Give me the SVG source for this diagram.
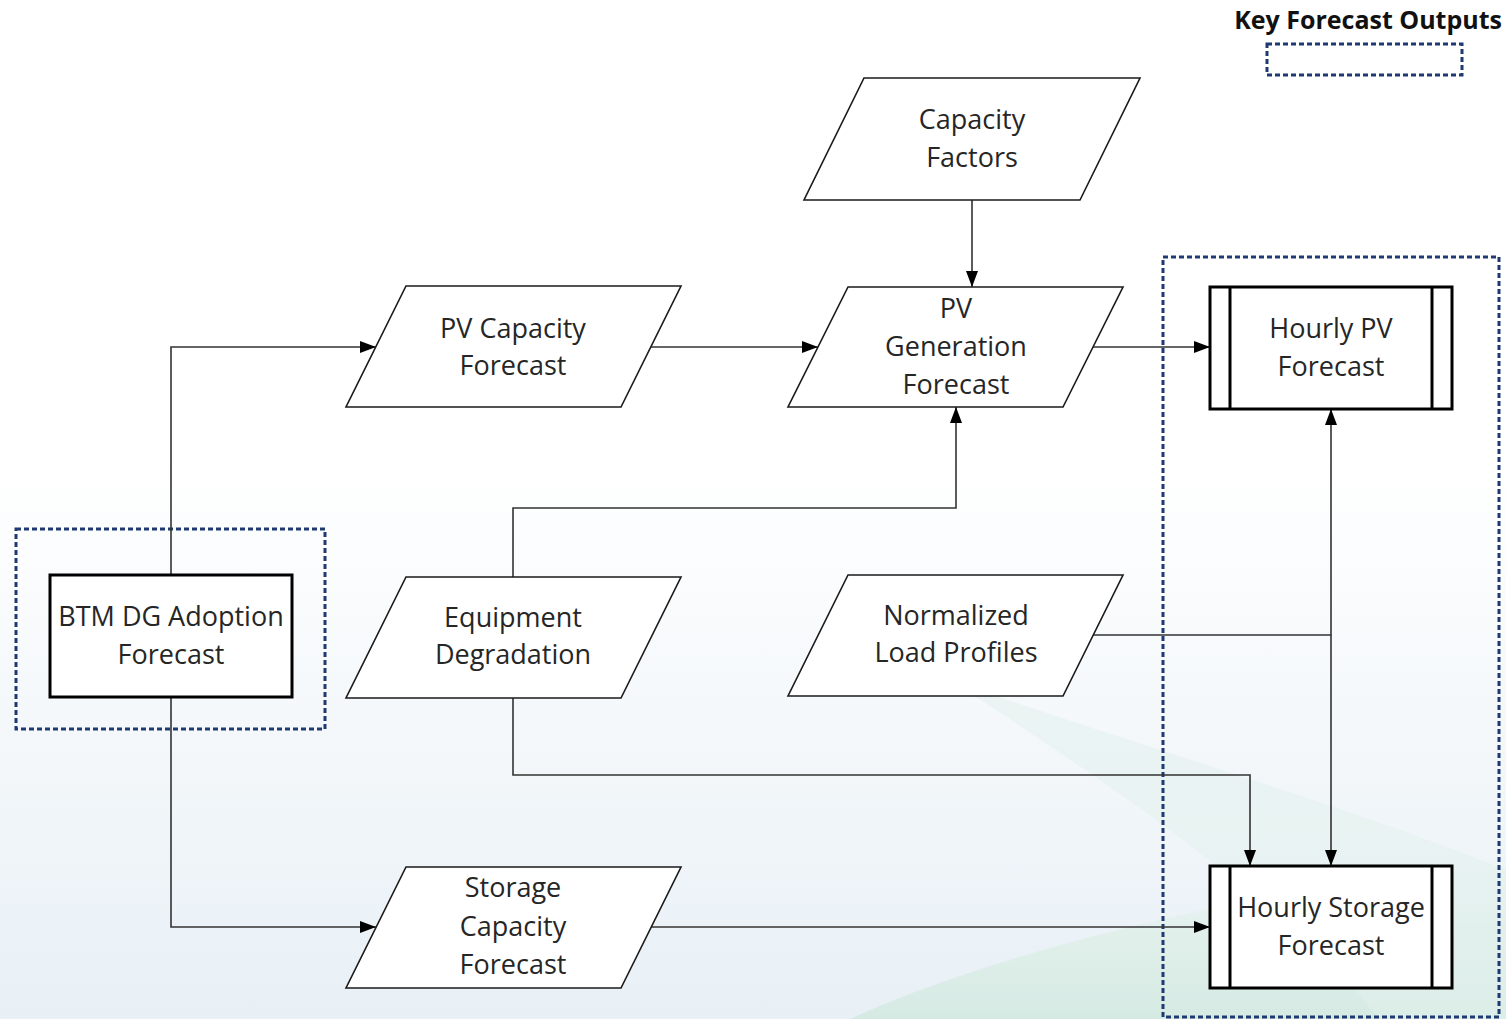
<svg xmlns="http://www.w3.org/2000/svg" width="1506" height="1019" viewBox="0 0 1506 1019">
  <defs>
    <linearGradient id="bg" x1="0" y1="0" x2="0" y2="1">
      <stop offset="0.45" stop-color="#ffffff"/>
      <stop offset="1" stop-color="#e8f0f6"/>
    </linearGradient>
    <linearGradient id="teal" x1="0" y1="0" x2="0" y2="1">
      <stop offset="0" stop-color="#e6f2ef" stop-opacity="0"/>
      <stop offset="0.5" stop-color="#e0efea"/>
      <stop offset="1" stop-color="#d6eae4"/>
    </linearGradient>
    <marker id="arr" viewBox="0 0 16 12" refX="16" refY="6" markerWidth="16" markerHeight="12" markerUnits="userSpaceOnUse" orient="auto">
      <path d="M0,0 L16,6 L0,12 z" fill="#000"/>
    </marker>
    <style>
      .para { fill: #ffffff; stroke: #1a1a1a; stroke-width: 1.6; }
      .box { fill: #ffffff; stroke: #000; stroke-width: 3; }
      .inner { stroke: #000; stroke-width: 3; }
      .dash { fill: none; stroke: #1f3a70; stroke-width: 3; stroke-dasharray: 5 3; }
      .lbl { font-family: "Open Sans", "Liberation Sans", sans-serif; font-size: 27px; fill: #262626; text-anchor: middle; }
      .conn { fill: none; stroke: #333; stroke-width: 1.6; }
      .conn path { marker-end: url(#arr); }
    </style>
  </defs>

  <rect x="0" y="0" width="1506" height="1019" fill="url(#bg)"/>
  <path d="M850,1019 C1000,950 1250,890 1506,860 L1506,1019 Z" fill="url(#teal)"/>
  <path d="M950,680 C1120,740 1330,800 1506,870 L1506,1019 L1380,1019 C1280,900 1120,790 950,680 Z" fill="#e2f0ec" opacity="0.55"/>

  <g id="legend">
    <text x="1502" y="29" font-family="Open Sans, Liberation Sans, sans-serif" font-size="25" font-weight="bold" fill="#111" text-anchor="end">Key Forecast Outputs</text>
    <rect class="dash" x="1267" y="44" width="195" height="31"/>
  </g>

  <g id="groups">
    <rect class="dash" x="16" y="529" width="309" height="200"/>
    <rect class="dash" x="1163" y="257" width="336" height="760"/>
  </g>

  <g id="connectors" class="conn">
    <path d="M171,575 V347 H376"/>
    <path d="M171,697 V927 H376"/>
    <path d="M651,347 H818"/>
    <path d="M972,200 V287"/>
    <path d="M513,577 V508 H956 V407"/>
    <path d="M513,698 V775 H1250 V866"/>
    <path d="M1093,347 H1210"/>
    <path d="M1093,635 H1331 V409"/>
    <path d="M1331,635 V866"/>
    <path d="M651,927 H1210"/>
  </g>

  <g id="capacity-factors">
    <polygon class="para" points="864,78 1140,78 1080,200 804,200"/>
    <text class="lbl" x="972" y="129">Capacity</text>
    <text class="lbl" x="972" y="167">Factors</text>
  </g>

  <g id="pv-capacity-forecast">
    <polygon class="para" points="406,286 681,286 621,407 346,407"/>
    <text class="lbl" x="513" y="338">PV Capacity</text>
    <text class="lbl" x="513" y="375">Forecast</text>
  </g>

  <g id="pv-generation-forecast">
    <polygon class="para" points="848,287 1123,287 1063,407 788,407"/>
    <text class="lbl" x="956" y="318">PV</text>
    <text class="lbl" x="956" y="356">Generation</text>
    <text class="lbl" x="956" y="394">Forecast</text>
  </g>

  <g id="equipment-degradation">
    <polygon class="para" points="406,577 681,577 621,698 346,698"/>
    <text class="lbl" x="513" y="627">Equipment</text>
    <text class="lbl" x="513" y="664">Degradation</text>
  </g>

  <g id="normalized-load-profiles">
    <polygon class="para" points="848,575 1123,575 1063,696 788,696"/>
    <text class="lbl" x="956" y="625">Normalized</text>
    <text class="lbl" x="956" y="662">Load Profiles</text>
  </g>

  <g id="storage-capacity-forecast">
    <polygon class="para" points="406,867 681,867 621,988 346,988"/>
    <text class="lbl" x="513" y="897">Storage</text>
    <text class="lbl" x="513" y="936">Capacity</text>
    <text class="lbl" x="513" y="974">Forecast</text>
  </g>

  <g id="btm-dg-adoption-forecast">
    <rect class="box" x="50" y="575" width="242" height="122"/>
    <text class="lbl" x="171" y="626">BTM DG Adoption</text>
    <text class="lbl" x="171" y="664">Forecast</text>
  </g>

  <g id="hourly-pv-forecast">
    <rect class="box" x="1210" y="287" width="242" height="122"/>
    <line class="inner" x1="1230" y1="287" x2="1230" y2="409"/>
    <line class="inner" x1="1432" y1="287" x2="1432" y2="409"/>
    <text class="lbl" x="1331" y="338">Hourly PV</text>
    <text class="lbl" x="1331" y="376">Forecast</text>
  </g>

  <g id="hourly-storage-forecast">
    <rect class="box" x="1210" y="866" width="242" height="122"/>
    <line class="inner" x1="1230" y1="866" x2="1230" y2="988"/>
    <line class="inner" x1="1432" y1="866" x2="1432" y2="988"/>
    <text class="lbl" x="1331" y="917">Hourly Storage</text>
    <text class="lbl" x="1331" y="955">Forecast</text>
  </g>
</svg>
